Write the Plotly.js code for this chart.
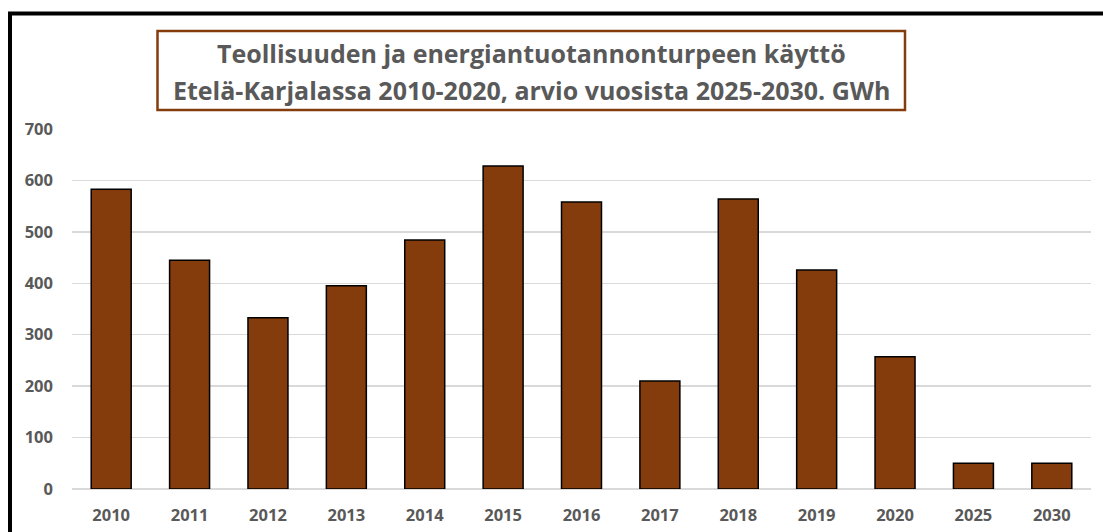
<!DOCTYPE html>
<html>
<head>
<meta charset="utf-8">
<script src="https://cdn.plot.ly/plotly-3.0.1.min.js"></script>
<style>html,body{margin:0;padding:0;background:#fff;}#chart{width:1103px;height:532px;}</style>
</head>
<body>
<div id="chart"></div>
<script>
const years = ["2010","2011","2012","2013","2014","2015","2016","2017","2018","2019","2020","2025","2030"];
const gwh = [583, 445, 333, 395, 484, 628, 558, 210, 564, 426, 257, 50, 50];
const yTicks = [0, 100, 200, 300, 400, 500, 600, 700];
const titleLines = ["Teollisuuden ja energiantuotannonturpeen käyttö", "Etelä-Karjalassa 2010-2020, arvio vuosista 2025-2030. GWh"];

const W = 1103, H = 532;
const m = {l: 72, r: 12, t: 129, b: 43};
const pw = W - m.l - m.r, ph = H - m.t - m.b;
const px = x => (x - m.l) / pw;
const py = y => (H - m.b - y) / ph;
const txtColor = '#595959';
const fontFam = '"Open Sans", "Noto Sans", sans-serif';

const trace = {
  type: 'bar',
  x: years,
  y: gwh,
  marker: {color: '#843C0C', line: {color: '#000000', width: 1.5}},
  hoverinfo: 'x+y'
};

const layout = {
  width: W, height: H,
  margin: m,
  paper_bgcolor: '#ffffff',
  plot_bgcolor: '#ffffff',
  bargap: 0.49,
  showlegend: false,
  font: {family: fontFam, color: txtColor},
  xaxis: {
    type: 'category',
    tickfont: {size: 16.5, color: txtColor, family: fontFam, weight: 'bold'},
    showgrid: false, zeroline: false, showline: false, ticks: '',
    ticklabelstandoff: 14
  },
  yaxis: {
    range: [0, 700],
    tickvals: yTicks,
    tickfont: {size: 16.5, color: txtColor, family: fontFam, weight: 'bold'},
    showgrid: true, gridcolor: '#d9d9d9', gridwidth: 1.5,
    zeroline: true, zerolinecolor: '#d9d9d9', zerolinewidth: 1.5,
    showline: false, ticks: '',
    ticklabelstandoff: 18
  },
  shapes: [
    {type: 'rect', xref: 'paper', yref: 'paper', x0: px(10), x1: px(1200), y0: py(700), y1: py(13.5),
     line: {color: '#000000', width: 4}, fillcolor: 'rgba(0,0,0,0)', layer: 'below'},
    {type: 'rect', xref: 'paper', yref: 'paper', x0: px(157.5), x1: px(905), y0: py(110), y1: py(31),
     line: {color: '#843C0C', width: 2.5}, fillcolor: 'rgba(0,0,0,0)'}
  ],
  annotations: [
    {xref: 'paper', yref: 'paper', x: px(531), y: py(53), xanchor: 'center', yanchor: 'middle',
     text: titleLines[0], showarrow: false,
     font: {size: 25, color: txtColor, family: fontFam, weight: 'bold'}},
    {xref: 'paper', yref: 'paper', x: px(531), y: py(90), xanchor: 'center', yanchor: 'middle',
     text: titleLines[1], showarrow: false,
     font: {size: 25, color: txtColor, family: fontFam, weight: 'bold'}}
  ]
};

Plotly.newPlot('chart', [trace], layout, {displayModeBar: false, staticPlot: true});
</script>
</body>
</html>
